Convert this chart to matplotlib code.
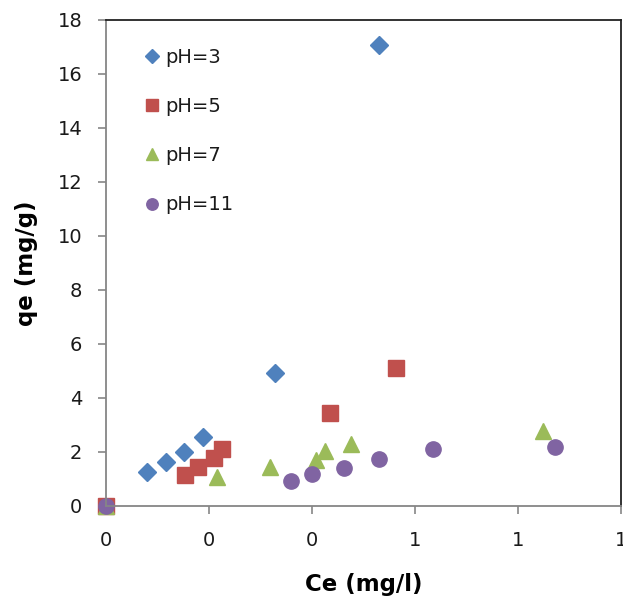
import matplotlib.pyplot as plt
from matplotlib.ticker import FuncFormatter, MultipleLocator

# values
ce_ph3 = [0.080, 0.117, 0.151, 0.188, 0.328, 0.530]
qe_ph3 = [1.26, 1.63, 2.00, 2.56, 4.93, 17.07]

ce_ph5 = [0.0, 0.153, 0.179, 0.210, 0.225, 0.435, 0.563]
qe_ph5 = [0.0, 1.15, 1.44, 1.78, 2.11, 3.44, 5.11]

ce_ph7 = [0.0, 0.216, 0.318, 0.408, 0.425, 0.476, 0.849]
qe_ph7 = [0.0, 1.07, 1.44, 1.70, 2.04, 2.30, 2.78]

ce_ph11 = [0.0, 0.359, 0.400, 0.462, 0.530, 0.635, 0.872]
qe_ph11 = [0.0, 0.93, 1.19, 1.41, 1.74, 2.11, 2.19]

fig = plt.figure(figsize=(6.23, 6.0), dpi=100)
ax = fig.add_axes([0.170, 0.157, 0.827, 0.810])

ms = 11
ax.plot(ce_ph3, qe_ph3, ls="None", marker="D", markersize=ms - 2, color="#4F81BD",
        label="pH=3", clip_on=False)
ax.plot(ce_ph5, qe_ph5, ls="None", marker="s", markersize=ms, color="#C0504D",
        label="pH=5", clip_on=False)
ax.plot(ce_ph7, qe_ph7, ls="None", marker="^", markersize=ms + 1, color="#9BBB59",
        label="pH=7", clip_on=False)
ax.plot(ce_ph11, qe_ph11, ls="None", marker="o", markersize=ms, color="#8064A2",
        label="pH=11", clip_on=False)

ax.set_xlim(0, 1.0)
ax.set_ylim(0, 18)
ax.xaxis.set_major_locator(MultipleLocator(0.2))
ax.yaxis.set_major_locator(MultipleLocator(2))
# Excel style number format "0" -> rounded labels
ax.xaxis.set_major_formatter(FuncFormatter(lambda v, p: f"{v:.0f}"))

grey = "#868686"
ax.spines["left"].set_color(grey)
ax.spines["bottom"].set_color(grey)
ax.spines["top"].set_color("#222222")
ax.spines["right"].set_color("#222222")
for s in ax.spines.values():
    s.set_linewidth(1.3)
ax.tick_params(axis="both", direction="out", length=6, width=1.2, color=grey,
               labelsize=14, labelcolor="#1a1a1a")
ax.tick_params(axis="x", pad=12)
ax.tick_params(axis="y", pad=11)

ax.set_xlabel("Ce (mg/l)", fontsize=16.5, fontweight="bold", labelpad=17)
ax.set_ylabel("qe (mg/g)", fontsize=16.5, fontweight="bold", labelpad=14)

leg = ax.legend(loc="upper left", frameon=False, fontsize=14, markerscale=0.75,
                handletextpad=0.1, handlelength=1.2, labelspacing=1.55,
                bbox_to_anchor=(0.04, 0.97), borderaxespad=0.3)
for t in leg.get_texts():
    t.set_color("#1a1a1a")

fig.savefig("out.png", dpi=100)
